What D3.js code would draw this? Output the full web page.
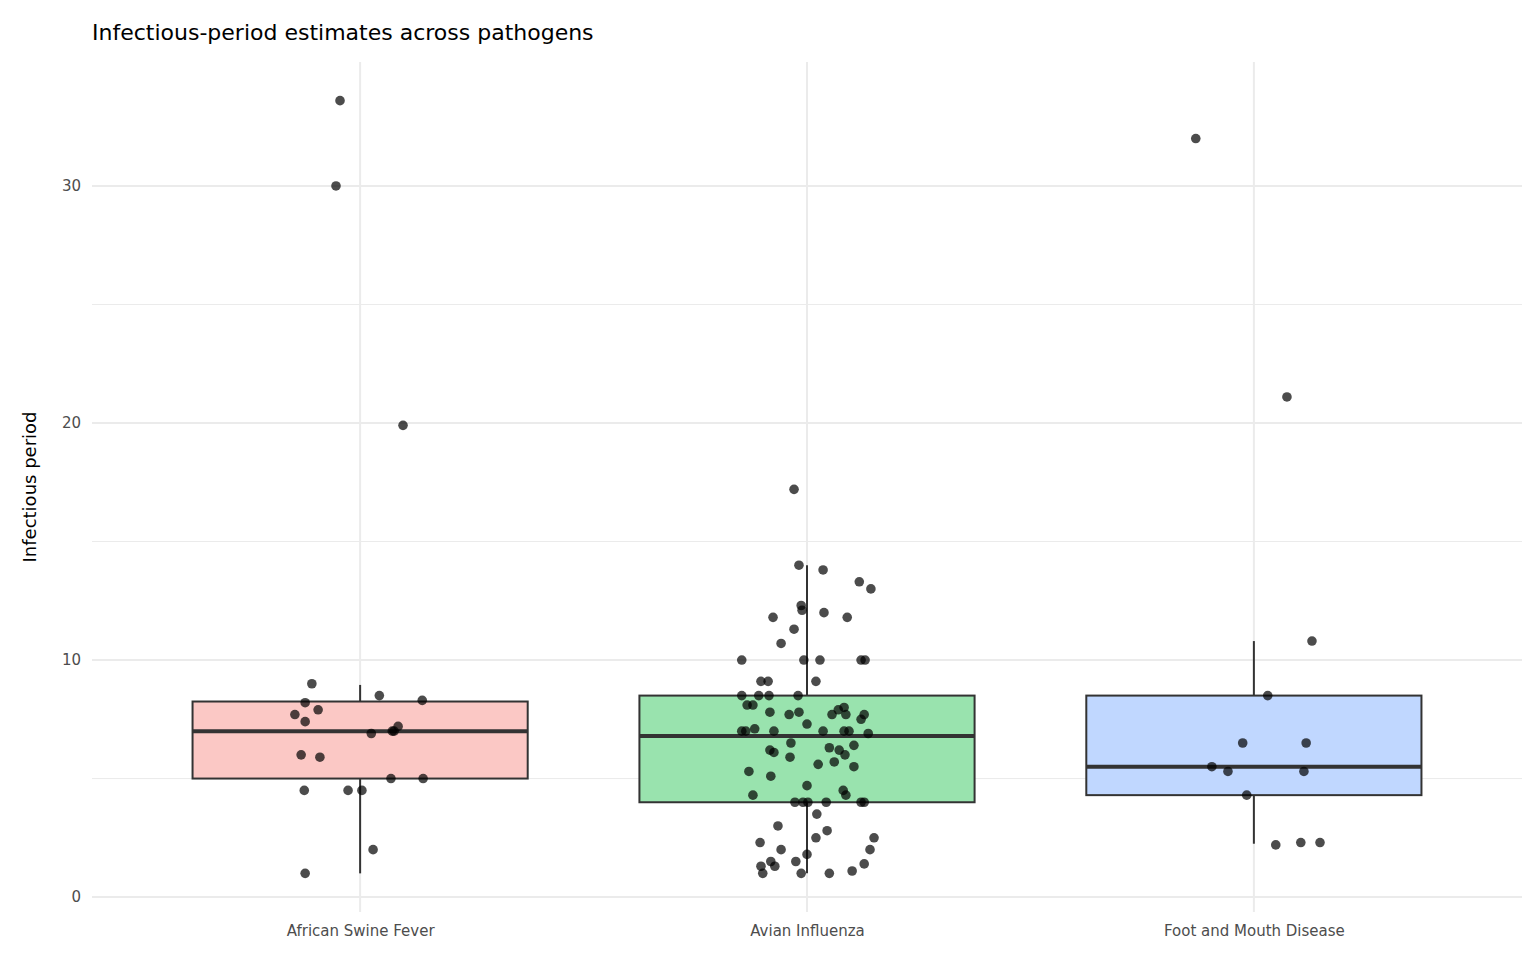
<!DOCTYPE html>
<html>
<head>
<meta charset="utf-8">
<script src="https://cdn.jsdelivr.net/npm/d3@7"></script>
<style>
  body { margin: 0; background: #fff; }
  text { font-family: "DejaVu Sans", sans-serif; }
</style>
</head>
<body>
<svg id="chart" width="1536" height="960"></svg>
<script>
// categories and box stats
const categories = ["African Swine Fever", "Avian Influenza", "Foot and Mouth Disease"];
const fills = ["#fbc8c5", "#99e3ae", "#c0d7ff"];
const q1 = [5.0, 4.0, 4.3];
const medians = [7.0, 6.8, 5.5];
const q3 = [8.25, 8.5, 8.5];
const whiskerLow = [1.0, 1.0, 2.25];
const whiskerHigh = [8.95, 14.0, 10.8];

// points: value and horizontal jitter (in category-step units)
const asfValues = [33.6, 30, 19.9, 9.0, 8.2, 7.9, 7.7, 7.4, 8.5, 8.3, 7.2, 6.9, 7.0, 7.0, 6.0, 5.9, 5.0, 5.0, 4.5, 4.5, 4.5, 2.0, 1.0];
const asfJitter = [-0.045, -0.054, 0.096, -0.108, -0.123, -0.094, -0.146, -0.123, 0.043, 0.139, 0.085, 0.025, 0.072, 0.076, -0.132, -0.09, 0.069, 0.141, -0.125, -0.027, 0.004, 0.029, -0.123];
const aiValues = [17.2, 14.0, 13.8, 13.3, 13.0, 12.3, 12.1, 12.0, 11.8, 11.8, 11.3, 10.7, 10.0, 10.0, 10.0, 10.0, 10.0, 9.1, 9.1, 9.1, 8.5, 8.5, 8.5, 8.5, 8.1, 8.1, 8.0, 7.9, 7.8, 7.8, 7.7, 7.7, 7.7, 7.7, 7.3, 7.5, 7.1, 7.0, 7.0, 7.0, 7.0, 7.0, 7.0, 6.9, 6.5, 6.4, 6.3, 6.2, 6.2, 6.1, 6.0, 5.9, 5.7, 5.6, 5.5, 5.3, 5.1, 4.5, 4.3, 4.3, 4.7, 4.0, 4.0, 4.0, 4.0, 4.0, 4.0, 3.5, 3.0, 2.8, 2.5, 2.5, 2.3, 2.0, 2.0, 1.8, 1.5, 1.5, 1.4, 1.3, 1.3, 1.1, 1.0, 1.0, 1.0];
const aiJitter = [-0.029, -0.018, 0.036, 0.117, 0.143, -0.013, -0.011, 0.038, -0.076, 0.09, -0.029, -0.058, -0.146, -0.007, 0.029, 0.121, 0.13, -0.103, -0.087, 0.02, -0.146, -0.108, -0.085, -0.02, -0.134, -0.121, 0.083, 0.07, -0.083, -0.018, -0.04, 0.056, 0.087, 0.128, 0.0, 0.121, -0.117, -0.146, -0.137, -0.074, 0.036, 0.083, 0.094, 0.137, -0.036, 0.105, 0.05, 0.072, -0.083, -0.074, 0.085, -0.038, 0.061, 0.025, 0.105, -0.130, -0.081, 0.081, 0.087, -0.121, 0.0, -0.027, -0.009, 0.002, 0.043, 0.121, 0.128, 0.022, -0.065, 0.045, 0.150, 0.02, -0.105, -0.058, 0.141, 0.0, -0.025, -0.081, 0.128, -0.103, -0.072, 0.101, -0.099, -0.013, 0.05];
const fmdValues = [32.0, 21.1, 10.8, 8.5, 6.5, 6.5, 5.5, 5.3, 5.3, 4.3, 2.2, 2.3, 2.3];
const fmdJitter = [-0.13, 0.074, 0.13, 0.031, -0.025, 0.117, -0.094, -0.058, 0.112, -0.016, 0.049, 0.105, 0.148];
const pointValues = [asfValues, aiValues, fmdValues];
const pointJitter = [asfJitter, aiJitter, fmdJitter];

const yTicks = [0, 10, 20, 30];
const yMinor = [5, 15, 25];

const svg = d3.select("#chart");
const plotLeft = 92, plotRight = 1522, plotTop = 62, plotBottom = 912;

let x = d3.scalePoint().domain(categories).range([plotLeft, plotRight]).padding(0.6);
let y = d3.scaleLinear().domain([-0.63, 35.23]).range([plotBottom, plotTop]);
const step = x.step();
const half = step * 0.375;

// grid
svg.append("g").selectAll("line").data(yMinor).join("line")
    .attr("x1", plotLeft).attr("x2", plotRight)
    .attr("y1", d => y(d)).attr("y2", d => y(d))
    .attr("stroke", "#ebebeb").attr("stroke-width", 1);
svg.append("g").selectAll("line").data(yTicks).join("line")
    .attr("x1", plotLeft).attr("x2", plotRight)
    .attr("y1", d => y(d)).attr("y2", d => y(d))
    .attr("stroke", "#ebebeb").attr("stroke-width", 2);
svg.append("g").selectAll("line").data(categories).join("line")
    .attr("x1", d => x(d)).attr("x2", d => x(d))
    .attr("y1", plotTop).attr("y2", plotBottom)
    .attr("stroke", "#ebebeb").attr("stroke-width", 2);

// axes
let yAxis = svg.append("g")
    .attr("transform", "translate(" + (plotLeft - 8) + ",0)")
    .call(d3.axisLeft(y).tickValues(yTicks).tickSize(0));
yAxis.select(".domain").remove();
yAxis.selectAll("text").attr("fill", "#4d4d4d").style("font-size", "15px");

let xAxis = svg.append("g")
    .attr("transform", "translate(0," + (plotBottom + 6) + ")")
    .call(d3.axisBottom(x).tickSize(0));
xAxis.select(".domain").remove();
xAxis.selectAll("text").attr("fill", "#4d4d4d").style("font-size", "15px").attr("dy", "1em");

// boxes
categories.forEach(function (c, i) {
    let g = svg.append("g");
    g.append("line")
        .attr("x1", x(c)).attr("x2", x(c))
        .attr("y1", y(whiskerLow[i])).attr("y2", y(q1[i]))
        .attr("stroke", "#333").attr("stroke-width", 2);
    g.append("line")
        .attr("x1", x(c)).attr("x2", x(c))
        .attr("y1", y(q3[i])).attr("y2", y(whiskerHigh[i]))
        .attr("stroke", "#333").attr("stroke-width", 2);
    g.append("rect")
        .attr("x", x(c) - half).attr("width", half * 2)
        .attr("y", y(q3[i])).attr("height", y(q1[i]) - y(q3[i]))
        .attr("fill", fills[i]).attr("stroke", "#333").attr("stroke-width", 2);
    g.append("line")
        .attr("x1", x(c) - half).attr("x2", x(c) + half)
        .attr("y1", y(medians[i])).attr("y2", y(medians[i]))
        .attr("stroke", "#333").attr("stroke-width", 4);
});

// jittered points
categories.forEach(function (c, i) {
    svg.append("g").selectAll("circle")
        .data(pointValues[i].map((v, j) => ({ v: v, j: pointJitter[i][j] })))
        .join("circle")
        .attr("cx", d => x(c) + d.j * step)
        .attr("cy", d => y(d.v))
        .attr("r", 4.8)
        .attr("fill", "#000").attr("fill-opacity", 0.7);
});

// labels
svg.append("text")
    .attr("x", plotLeft).attr("y", 40)
    .style("font-size", "22px").attr("fill", "#000")
    .text("Infectious-period estimates across pathogens");

svg.append("text")
    .attr("transform", "translate(36," + ((plotTop + plotBottom) / 2) + ") rotate(-90)")
    .attr("text-anchor", "middle")
    .style("font-size", "18px").attr("fill", "#000")
    .text("Infectious period");
</script>
</body>
</html>
